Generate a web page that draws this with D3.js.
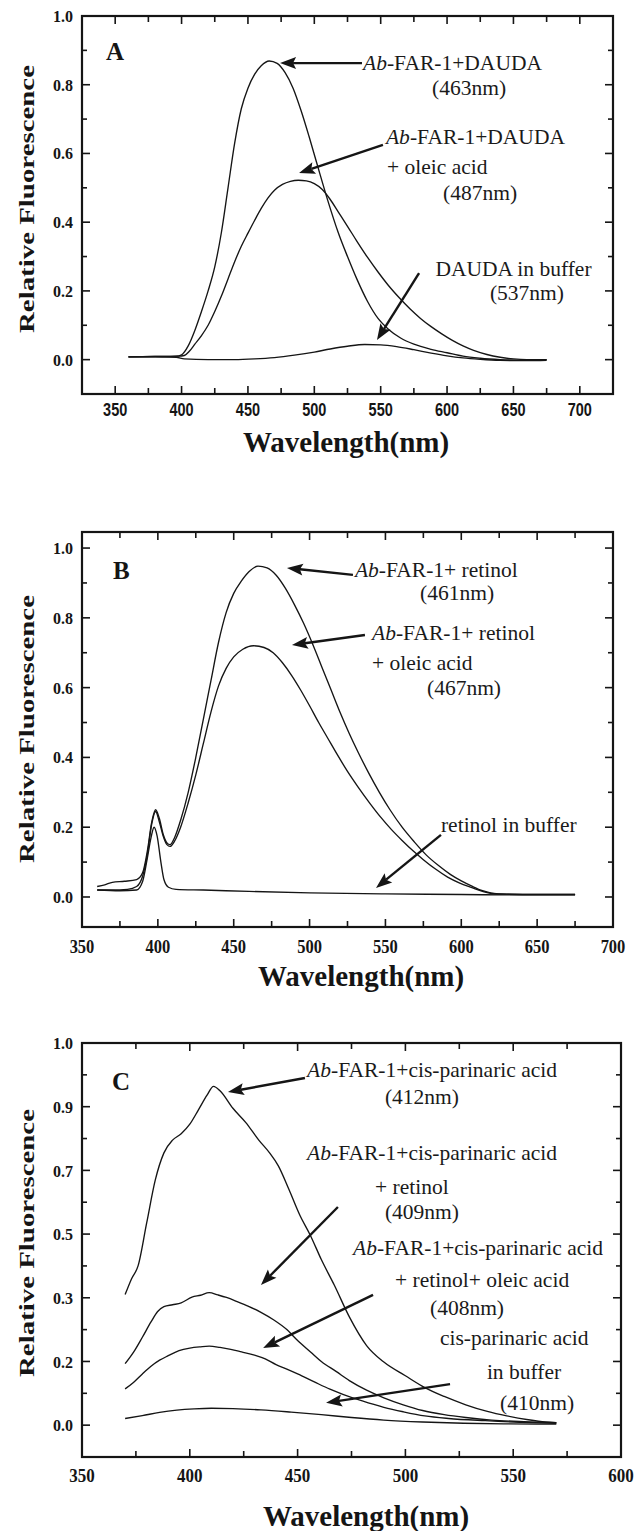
<!DOCTYPE html>
<html>
<head>
<meta charset="utf-8">
<script src="https://cdn.jsdelivr.net/npm/d3@7"></script>
<style>
  html, body { margin: 0; padding: 0; background: #fff; }
  svg { display: block; }
</style>
</head>
<body>
<svg id="chart" width="635" height="1531"></svg>
<script>
// ---- data: [wavelength nm, relative fluorescence] ----

// Panel A
const aFarDauda = [[360,0.008],[380,0.009],[396,0.010],[400,0.014],[405,0.04],[410,0.085],[415,0.14],[420,0.20],[425,0.27],[430,0.37],[435,0.50],[440,0.63],[445,0.73],[450,0.79],[455,0.83],[460,0.855],[466,0.869],[472,0.862],[478,0.835],[484,0.79],[490,0.725],[496,0.65],[502,0.57],[510,0.465],[518,0.37],[525,0.30],[532,0.235],[540,0.17],[548,0.12],[556,0.088],[565,0.063],[575,0.045],[588,0.03],[600,0.02],[612,0.01],[625,0.004],[640,0.0],[660,-0.002],[675,0.0]];
const aFarDaudaOleic = [[360,0.008],[380,0.009],[398,0.010],[402,0.012],[406,0.025],[410,0.045],[415,0.07],[420,0.10],[425,0.14],[430,0.185],[435,0.235],[440,0.285],[445,0.33],[450,0.368],[455,0.405],[460,0.44],[465,0.47],[470,0.493],[476,0.51],[482,0.519],[488,0.522],[494,0.52],[500,0.512],[506,0.495],[512,0.466],[518,0.43],[525,0.388],[532,0.345],[540,0.298],[548,0.255],[556,0.215],[564,0.18],[572,0.148],[580,0.12],[588,0.096],[596,0.075],[604,0.056],[612,0.04],[620,0.027],[630,0.015],[640,0.007],[650,0.002],[660,0.0],[675,0.0]];
const aDaudaBuffer = [[360,0.008],[380,0.008],[396,0.007],[402,0.002],[420,0.0],[440,0.0],[455,0.002],[470,0.006],[485,0.013],[500,0.022],[512,0.031],[525,0.039],[538,0.044],[550,0.043],[562,0.038],[575,0.029],[588,0.019],[600,0.011],[612,0.005],[625,0.001],[640,-0.002],[660,-0.003],[675,-0.002]];

// Panel B
const bFarRetinol = [[360,0.03],[365,0.035],[370,0.042],[378,0.045],[386,0.05],[390,0.07],[393,0.13],[396,0.215],[398.5,0.25],[401,0.225],[403.5,0.18],[406,0.155],[408,0.15],[411,0.17],[415,0.22],[420,0.30],[425,0.40],[430,0.51],[435,0.62],[440,0.73],[445,0.815],[450,0.87],[455,0.905],[460,0.932],[466,0.948],[472,0.943],[478,0.922],[484,0.885],[490,0.838],[496,0.785],[502,0.725],[508,0.66],[514,0.595],[520,0.53],[526,0.47],[532,0.415],[539,0.355],[546,0.30],[553,0.25],[561,0.20],[569,0.158],[577,0.12],[585,0.09],[593,0.064],[600,0.046],[607,0.031],[614,0.018],[620,0.011],[630,0.008],[650,0.007],[675,0.007]];
const bFarRetinolOleic = [[360,0.02],[370,0.02],[380,0.022],[386,0.03],[390,0.06],[393,0.12],[396,0.21],[398.5,0.245],[401,0.215],[403.5,0.175],[406,0.15],[408,0.145],[411,0.16],[415,0.20],[420,0.27],[425,0.35],[430,0.44],[435,0.53],[440,0.605],[445,0.655],[450,0.688],[456,0.71],[463,0.72],[470,0.715],[476,0.70],[482,0.672],[488,0.636],[494,0.594],[500,0.548],[506,0.50],[512,0.455],[518,0.41],[525,0.36],[532,0.315],[540,0.267],[547,0.228],[554,0.193],[561,0.162],[568,0.133],[575,0.107],[583,0.08],[591,0.057],[599,0.04],[607,0.027],[614,0.016],[620,0.01],[630,0.008],[650,0.007],[675,0.007]];
const bRetinolBuffer = [[360,0.02],[375,0.018],[386,0.02],[390,0.045],[393,0.11],[395.5,0.17],[397.5,0.20],[399.5,0.175],[402,0.10],[404,0.05],[407,0.028],[412,0.022],[430,0.02],[460,0.016],[500,0.012],[550,0.009],[600,0.007],[640,0.006],[675,0.006]];

// Panel C (values follow the printed, unevenly spaced tick labels)
const cFarCpa = [[370,0.31],[373,0.36],[376,0.40],[380,0.535],[384,0.67],[388,0.755],[392,0.795],[396,0.815],[400,0.845],[404,0.89],[408,0.918],[411,0.932],[414,0.925],[420,0.895],[426,0.85],[432,0.795],[437,0.755],[441,0.715],[446,0.64],[451,0.56],[456,0.495],[461,0.42],[467,0.34],[474,0.27],[482,0.225],[490,0.198],[500,0.155],[509,0.118],[518,0.09],[528,0.064],[538,0.043],[547,0.029],[557,0.017],[565,0.01],[570,0.008]];
const cFarCpaRetinol = [[370,0.193],[374,0.215],[378,0.238],[382,0.262],[385,0.278],[388,0.286],[392,0.289],[396,0.292],[401,0.302],[405,0.308],[409,0.316],[413,0.309],[417,0.301],[422,0.294],[427,0.287],[433,0.277],[439,0.265],[445,0.25],[450,0.233],[456,0.215],[461,0.20],[468,0.168],[474,0.14],[482,0.11],[490,0.086],[499,0.064],[508,0.046],[518,0.033],[528,0.024],[540,0.016],[555,0.011],[570,0.008]];
const cFarCpaRetinolOleic = [[370,0.114],[374,0.135],[378,0.161],[382,0.185],[386,0.202],[390,0.209],[395,0.217],[400,0.221],[405,0.223],[409,0.224],[414,0.222],[419,0.219],[424,0.215],[430,0.21],[435,0.204],[440,0.19],[445,0.176],[450,0.161],[458,0.135],[465,0.113],[471,0.097],[480,0.076],[490,0.056],[499,0.042],[509,0.029],[520,0.021],[537,0.014],[553,0.009],[570,0.006]];
const cCpaBuffer = [[370,0.021],[378,0.03],[386,0.04],[394,0.047],[402,0.051],[410,0.053],[420,0.052],[433,0.048],[447,0.041],[461,0.033],[475,0.024],[490,0.016],[508,0.01],[527,0.006],[548,0.004],[570,0.003]];

// ---- ticks ----
const xTicksAB = [350, 400, 450, 500, 550, 600, 650, 700];
const xMinorAB = [375, 425, 475, 525, 575, 625, 675];
const xTicksC = [350, 400, 450, 500, 550, 600];
const xMinorC = [375, 425, 475, 525, 575];
const yTicksAB = [0, 0.2, 0.4, 0.6, 0.8, 1.0];
const yMinorAB = [0.1, 0.3, 0.5, 0.7, 0.9];
const yTicksC = [0, 0.2, 0.3, 0.5, 0.7, 0.9, 1.0];
const yTickLabelsC = ['0.0', '0.2', '0.3', '0.5', '0.7', '0.9', '1.0'];
const yMinorC = [0.1, 0.25, 0.4, 0.6, 0.8, 0.95];

const SERIF = '"Liberation Serif", "Times New Roman", serif';
const SANS = '"Liberation Sans", Arial, sans-serif';
const INK = '#151515';

const svg = d3.select('#chart');
svg.append('rect').attr('width', 635).attr('height', 1531).attr('fill', '#fff');

function arrow(g, x1, y1, x2, y2) {
  const ang = Math.atan2(y2 - y1, x2 - x1);
  const len = 16, half = 6;
  const bx = x2 - len * Math.cos(ang), by = y2 - len * Math.sin(ang);
  g.append('line')
    .attr('x1', x1).attr('y1', y1)
    .attr('x2', x2 - (len - 3) * Math.cos(ang)).attr('y2', y2 - (len - 3) * Math.sin(ang))
    .attr('stroke', INK).attr('stroke-width', 2.4);
  const px = -Math.sin(ang) * half, py = Math.cos(ang) * half;
  g.append('path')
    .attr('d', `M${x2},${y2}L${bx + px},${by + py}L${bx + 3 * Math.cos(ang)},${by + 3 * Math.sin(ang)}L${bx - px},${by - py}Z`)
    .attr('fill', INK);
}

function label(g, x, y, str) {
  const t = g.append('text')
    .attr('x', x).attr('y', y)
    .attr('font-family', SERIF).attr('font-size', 21.5).attr('fill', '#1a1a1a');
  if (str.startsWith('Ab-')) {
    t.append('tspan').attr('font-style', 'italic').text('Ab');
    t.append('tspan').text(str.slice(2));
  } else {
    t.text(str);
  }
}

function drawPanel(p) {
  const g = svg.append('g');
  const x = d3.scaleLinear().domain(p.xDomain).range([p.left, p.right]);
  const y = p.y;

  // series
  const line = d3.line()
    .x(d => x(d[0]))
    .y(d => y(d[1]))
    .curve(d3.curveMonotoneX);
  p.series.forEach(s => {
    g.append('path')
      .datum(s)
      .attr('d', line)
      .attr('fill', 'none')
      .attr('stroke', INK)
      .attr('stroke-width', 1.35)
      .attr('stroke-linejoin', 'round');
  });

  // inward ticks on all four sides
  const ax = g.append('g').attr('stroke', INK).attr('stroke-width', 1.6);
  const tickX = (vals, len) => vals.forEach(v => {
    ax.append('line').attr('x1', x(v)).attr('x2', x(v)).attr('y1', p.bottom).attr('y2', p.bottom - len);
    ax.append('line').attr('x1', x(v)).attr('x2', x(v)).attr('y1', p.top).attr('y2', p.top + len);
  });
  const tickY = (vals, len) => vals.forEach(v => {
    ax.append('line').attr('y1', y(v)).attr('y2', y(v)).attr('x1', p.left).attr('x2', p.left + len);
    ax.append('line').attr('y1', y(v)).attr('y2', y(v)).attr('x1', p.right).attr('x2', p.right - len);
  });
  tickX(p.xTicks, 8);
  tickX(p.xMinor, 6);
  tickY(p.yTicks, 8);
  tickY(p.yMinor, 5);

  // frame
  g.append('rect')
    .attr('x', p.left).attr('y', p.top)
    .attr('width', p.right - p.left).attr('height', p.bottom - p.top)
    .attr('fill', 'none').attr('stroke', INK).attr('stroke-width', 2.2);

  // tick labels
  p.xTicks.forEach(v => {
    g.append('text')
      .attr('transform', `translate(${x(v)},${p.bottom + p.xLabelGap}) scale(1,${p.xLabelStretch})`)
      .attr('text-anchor', 'middle')
      .attr('font-family', p.xLabelFont).attr('font-weight', 'bold')
      .attr('font-size', p.xLabelSize).attr('fill', INK)
      .text(v);
  });
  p.yTicks.forEach((v, i) => {
    g.append('text')
      .attr('transform', `translate(${p.left - 9},${y(v)}) scale(1,${p.yLabelStretch})`)
      .attr('dy', '0.35em')
      .attr('text-anchor', 'end')
      .attr('font-family', SERIF).attr('font-weight', 'bold')
      .attr('font-size', 16).attr('fill', INK)
      .text(p.yTickLabels ? p.yTickLabels[i] : d3.format('.1f')(v));
  });

  // axis titles
  g.append('text')
    .attr('transform', `translate(34,${p.yTitleY}) rotate(-90)`)
    .attr('text-anchor', 'middle')
    .attr('font-family', SERIF).attr('font-weight', 'bold')
    .attr('font-size', 22).attr('fill', INK)
    .attr('textLength', 268).attr('lengthAdjust', 'spacingAndGlyphs')
    .text('Relative Fluorescence');
  g.append('text')
    .attr('x', p.xTitleX).attr('y', p.xTitleY)
    .attr('text-anchor', 'middle')
    .attr('font-family', SERIF).attr('font-weight', 'bold')
    .attr('font-size', 29).attr('fill', INK)
    .text('Wavelength(nm)');

  // panel letter
  g.append('text')
    .attr('x', x(p.letter[1])).attr('y', y(p.letter[2]))
    .attr('font-family', SERIF).attr('font-weight', 'bold')
    .attr('font-size', 25).attr('fill', INK)
    .text(p.letter[0]);

  // annotations
  p.texts.forEach(t => label(g, x(t[1]), y(t[2]), t[0]));
  p.arrows.forEach(a => arrow(g, x(a[0]), y(a[1]), x(a[2]), y(a[3])));
}

// Panel A
drawPanel({
  left: 82, right: 613, top: 16, bottom: 394,
  xDomain: [325, 725],
  y: d3.scaleLinear().domain([-0.1, 1.0]).range([394, 16]),
  series: [aFarDauda, aFarDaudaOleic, aDaudaBuffer],
  xTicks: xTicksAB, xMinor: xMinorAB, yTicks: yTicksAB, yMinor: yMinorAB,
  xLabelFont: SANS, xLabelSize: 14.5, xLabelStretch: 1.25, xLabelGap: 22, yLabelStretch: 1.05,
  yTitleY: 199, xTitleX: 346, xTitleY: 452,
  letter: ['A', 343.1, 0.872],
  texts: [
    ['Ab-FAR-1+DAUDA', 536.7, 0.843],
    ['(463nm)', 588.7, 0.770],
    ['Ab-FAR-1+DAUDA', 554.0, 0.628],
    ['+ oleic acid', 554.8, 0.540],
    ['(487nm)', 597.0, 0.465],
    ['DAUDA in buffer', 591.3, 0.243],
    ['(537nm)', 632.3, 0.174]
  ],
  arrows: [
    [535.9, 0.863, 474.2, 0.863],
    [551.7, 0.625, 488.5, 0.543],
    [578.9, 0.252, 547.2, 0.057]
  ]
});

// Panel B
drawPanel({
  left: 82, right: 613, top: 532, bottom: 927,
  xDomain: [350, 700],
  y: d3.scaleLinear().domain([-0.086, 1.046]).range([927, 532]),
  series: [bFarRetinol, bFarRetinolOleic, bRetinolBuffer],
  xTicks: xTicksAB, xMinor: xMinorAB, yTicks: yTicksAB, yMinor: yMinorAB,
  xLabelFont: SERIF, xLabelSize: 16.5, xLabelStretch: 1.15, xLabelGap: 26, yLabelStretch: 1.05,
  yTitleY: 729, xTitleX: 361, xTitleY: 986,
  letter: ['B', 370.4, 0.911],
  texts: [
    ['Ab-FAR-1+ retinol', 529.9, 0.917],
    ['(461nm)', 572.8, 0.851],
    ['Ab-FAR-1+ retinol', 541.2, 0.736],
    ['+ oleic acid', 541.2, 0.651],
    ['(467nm)', 577.4, 0.579],
    ['retinol in buffer', 586.6, 0.186]
  ],
  arrows: [
    [528.6, 0.923, 485.1, 0.943],
    [536.5, 0.751, 488.4, 0.722],
    [586.6, 0.178, 543.8, 0.026]
  ]
});

// Panel C: the printed y labels are unevenly spaced values on evenly spaced ticks
const cTop = 1043, cBottom = 1457, cStep = (cBottom - cTop) / 6.5;
drawPanel({
  left: 82, right: 621, top: cTop, bottom: cBottom,
  xDomain: [350, 600],
  y: d3.scaleLinear()
    .domain([-0.1, 0, 0.2, 0.3, 0.5, 0.7, 0.9, 1.0])
    .range([cBottom, cBottom - 0.5 * cStep, cBottom - 1.5 * cStep, cBottom - 2.5 * cStep,
            cBottom - 3.5 * cStep, cBottom - 4.5 * cStep, cBottom - 5.5 * cStep, cTop]),
  series: [cFarCpa, cFarCpaRetinol, cFarCpaRetinolOleic, cCpaBuffer],
  xTicks: xTicksC, xMinor: xMinorC, yTicks: yTicksC, yTickLabels: yTickLabelsC, yMinor: yMinorC,
  xLabelFont: SERIF, xLabelSize: 17, xLabelStretch: 1.1, xLabelGap: 25, yLabelStretch: 1.1,
  yTitleY: 1243, xTitleX: 366, xTitleY: 1526,
  letter: ['C', 363.9, 0.926],
  texts: [
    ['Ab-FAR-1+cis-parinaric acid', 454.4, 0.947],
    ['(412nm)', 490.5, 0.904],
    ['Ab-FAR-1+cis-parinaric acid', 454.4, 0.733],
    ['+ retinol', 485.9, 0.626],
    ['(409nm)', 490.5, 0.547],
    ['Ab-FAR-1+cis-parinaric acid', 475.7, 0.434],
    ['+ retinol+ oleic acid', 495.2, 0.334],
    ['(408nm)', 511.4, 0.273],
    ['cis-parinaric acid', 516.0, 0.226],
    ['in buffer', 537.8, 0.145],
    ['(410nm)', 543.9, 0.048]
  ],
  arrows: [
    [453.4, 0.945, 417.7, 0.923],
    [468.7, 0.585, 433.0, 0.340],
    [485.0, 0.309, 434.0, 0.221],
    [520.7, 0.129, 463.2, 0.070]
  ]
});
</script>
</body>
</html>
